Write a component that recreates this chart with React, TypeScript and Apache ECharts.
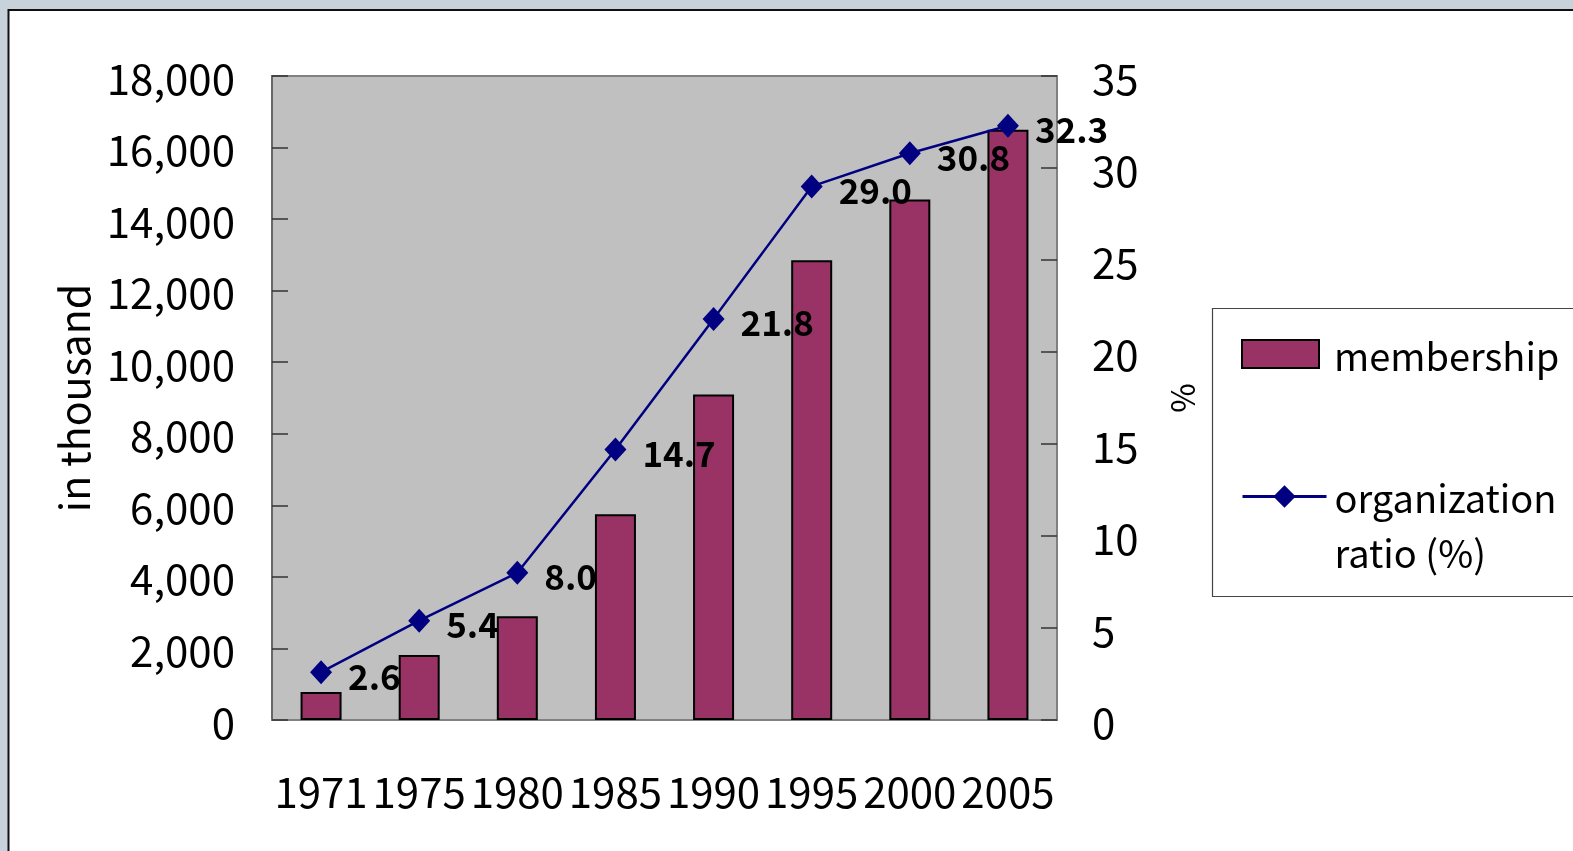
import React, { useEffect, useRef } from "react";
import * as echarts from "echarts";

const years = ["1971", "1975", "1980", "1985", "1990", "1995", "2000", "2005"];
const membership = [780, 1820, 2900, 5750, 9100, 12850, 14550, 16500];
const ratio = [2.6, 5.4, 8.0, 14.7, 21.8, 29.0, 30.8, 32.3];
const seriesNames = ["membership", "organization ratio (%)"];
const leftAxisName = "in thousand";
const rightAxisName = "%";

const FONT = '"Noto Sans CJK JP", "Noto Sans", sans-serif';

export default function App() {
  const ref = useRef<HTMLDivElement>(null);
  useEffect(() => {
    if (!ref.current) return;
    const chart = echarts.init(ref.current, undefined, { renderer: "svg" });
    chart.setOption({
      animation: false,
      textStyle: { fontFamily: FONT },
      graphic: [
        { type: "rect", shape: { x: 0, y: 0, width: 1573, height: 851 }, style: { fill: "#c8d2da" }, z: -10 },
        { type: "rect", shape: { x: 8.5, y: 10, width: 1600, height: 900 }, style: { fill: "#ffffff", stroke: "#111", lineWidth: 2 }, z: -9 },
        { type: "rect", shape: { x: 1212.5, y: 308.5, width: 400, height: 288 }, style: { fill: "#ffffff", stroke: "#444", lineWidth: 1.2 }, z: -8 },
      ],
      legend: [
        {
          data: [{ name: seriesNames[0], icon: "rect" }],
          orient: "vertical",
          left: 1241,
          top: 333,
          padding: 0,
          itemWidth: 77,
          itemHeight: 28,
          textStyle: { fontSize: 38, color: "#000", fontFamily: FONT, lineHeight: 42, padding: [0, 0, 0, 10] },
        },
        {
          data: [seriesNames[1]],
          orient: "vertical",
          left: 1241,
          top: 414,
          padding: 0,
          itemWidth: 84,
          itemHeight: 28,
          lineStyle: { width: 3 },
          formatter: () => "\norganization\nratio (%)",
          textStyle: { fontSize: 38, color: "#000", fontFamily: FONT, lineHeight: 55, padding: [0, 0, 0, 3] },
        },
      ],
      grid: {
        left: 272,
        top: 76,
        width: 785,
        height: 644,
        show: true,
        backgroundColor: "#c0c0c0",
        borderColor: "#808080",
        borderWidth: 2,
      },
      xAxis: {
        type: "category",
        data: years,
        axisLine: { lineStyle: { color: "#808080", width: 2 } },
        axisTick: { inside: true, length: 16, lineStyle: { color: "#666", width: 1.5 } },
        axisLabel: { fontSize: 42, color: "#000", margin: 48, interval: 0, fontFamily: FONT },
        splitLine: { show: false },
      },
      yAxis: [
        {
          type: "value",
          min: 0,
          max: 18000,
          interval: 2000,
          name: leftAxisName,
          nameLocation: "middle",
          nameRotate: 90,
          nameGap: 180,
          nameTextStyle: { fontSize: 41, color: "#000", fontFamily: FONT },
          axisLine: { show: true, lineStyle: { color: "#666", width: 2 } },
          axisTick: { show: true, inside: true, length: 16, lineStyle: { color: "#333", width: 1.5 } },
          axisLabel: {
            fontSize: 42,
            color: "#000",
            margin: 37,
            fontFamily: FONT,
            formatter: (v: number) => v.toLocaleString("en-US"),
          },
          splitLine: { show: false },
        },
        {
          type: "value",
          min: 0,
          max: 35,
          interval: 5,
          position: "right",
          name: rightAxisName,
          nameLocation: "middle",
          nameRotate: 90,
          nameGap: 108,
          nameTextStyle: { fontSize: 32, color: "#000", fontFamily: FONT },
          axisLine: { show: true, lineStyle: { color: "#808080", width: 2 } },
          axisTick: { show: true, inside: true, length: 16, lineStyle: { color: "#333", width: 1.5 } },
          axisLabel: { fontSize: 42, color: "#000", margin: 35, fontFamily: FONT },
          splitLine: { show: false },
        },
      ],
      series: [
        {
          name: seriesNames[0],
          type: "bar",
          data: membership,
          barWidth: 41,
          itemStyle: { color: "#993366", borderColor: "#000", borderWidth: 2 },
          z: 2,
        },
        {
          name: seriesNames[1],
          type: "line",
          yAxisIndex: 1,
          data: ratio,
          symbol: "diamond",
          symbolSize: [22, 24],
          color: "#000080",
          itemStyle: { color: "#000080" },
          lineStyle: { color: "#000080", width: 2.5 },
          label: {
            show: true,
            position: "right",
            distance: 16,
            offset: [0, 2],
            fontSize: 35,
            fontWeight: "bold",
            color: "#000",
            fontFamily: FONT,
            formatter: (p: any) => Number(p.value).toFixed(1),
          },
          z: 5,
        },
      ],
    });
    return () => chart.dispose();
  }, []);
  return <div ref={ref} style={{ position: "fixed", left: 0, top: 0, width: 1573, height: 851 }} />;
}
